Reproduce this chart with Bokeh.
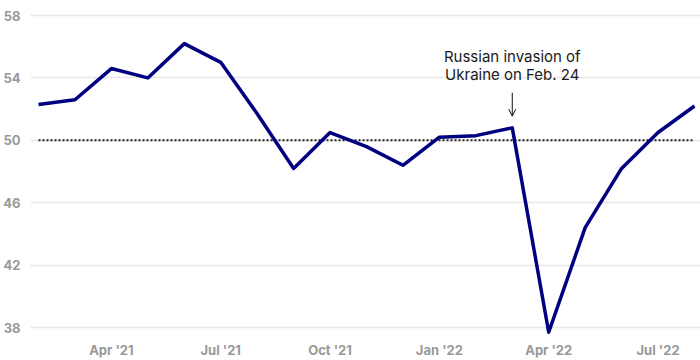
from bokeh.plotting import figure
from bokeh.models import ColumnDataSource, FixedTicker, Arrow, OpenHead, Range1d
from bokeh.core.properties import value
from bokeh.embed import file_html
from bokeh.resources import INLINE

months = ["Feb '21", "Mar '21", "Apr '21", "May '21", "Jun '21", "Jul '21", "Aug '21",
          "Sep '21", "Oct '21", "Nov '21", "Dec '21", "Jan '22", "Feb '22", "Mar '22",
          "Apr '22", "May '22", "Jun '22", "Jul '22", "Aug '22"]
values = [52.3, 52.6, 54.6, 54.0, 56.2, 55.0, 51.7, 48.2, 50.5, 49.6, 48.4, 50.2,
          50.3, 50.8, 37.7, 44.4, 48.2, 50.5, 52.2]
y_ticks = [38, 42, 46, 50, 54, 58]
x_tick_labels = ["Apr '21", "Jul '21", "Oct '21", "Jan '22", "Apr '22", "Jul '22"]
threshold = 50
annotation_lines = ["Russian invasion of", "Ukraine on Feb. 24"]
annotation_month = "Mar '22"

idx = list(range(len(months)))
src = ColumnDataSource(dict(x=idx, y=values, month=months))

p = figure(width=700, height=360, output_backend="svg", toolbar_location=None,
           x_range=Range1d(-0.22, len(months) - 1 + 0.165),
           y_range=Range1d(37.49, 58.45),
           min_border_left=30, min_border_right=0, min_border_top=8, min_border_bottom=25)
p.outline_line_color = None
p.background_fill_color = "white"
p.border_fill_color = "white"

# axes
p.yaxis.ticker = FixedTicker(ticks=y_ticks)
p.yaxis.axis_line_color = None
p.yaxis.major_tick_line_color = None
p.yaxis.minor_tick_line_color = None
p.yaxis.major_tick_out = 0
p.yaxis.major_tick_in = 0
p.yaxis.minor_tick_out = 0
p.yaxis.major_label_standoff = 10
p.yaxis.major_label_text_font = "Inter"
p.yaxis.major_label_text_font_style = "bold"
p.yaxis.major_label_text_font_size = "13px"
p.yaxis.major_label_text_color = "#999999"

tick_idx = [months.index(m) for m in x_tick_labels]
p.xaxis.ticker = FixedTicker(ticks=tick_idx)
p.xaxis.major_label_overrides = {i: lab for i, lab in zip(tick_idx, x_tick_labels)}
p.xaxis.axis_line_color = None
p.xaxis.major_tick_line_color = None
p.xaxis.minor_tick_line_color = None
p.xaxis.major_tick_out = 0
p.xaxis.major_tick_in = 0
p.xaxis.minor_tick_out = 0
p.xaxis.major_label_standoff = 6
p.xaxis.major_label_text_font = "Inter"
p.xaxis.major_label_text_font_style = "bold"
p.xaxis.major_label_text_font_size = "13px"
p.xaxis.major_label_text_color = "#999999"

p.xgrid.grid_line_color = None
p.ygrid.grid_line_color = "#e6e6e6"
p.ygrid.grid_line_width = 1.5

# threshold dotted line
p.line(x=[idx[0], idx[-1]], y=[threshold, threshold], line_color="#222222",
       line_width=2, line_dash="2 2")

p.line("x", "y", source=src, line_color="#000080", line_width=3.5, line_join="round")

# annotation
ai = months.index(annotation_month)
av = values[ai]
p.text(x=[ai, ai], y=[av + 4.6, av + 3.4], text=annotation_lines,
       text_align="center", text_baseline="middle", text_font=value("Inter"),
       text_font_size="15px", text_font_style="normal", text_color="#1a1a1a")
p.add_layout(Arrow(end=OpenHead(size=7, line_width=1, line_color="#111111"),
                   x_start=ai, y_start=av + 2.25, x_end=ai, y_end=av + 0.75,
                   line_width=1, line_color="#111111"))

open("out.html", "w").write(file_html(p, INLINE))
